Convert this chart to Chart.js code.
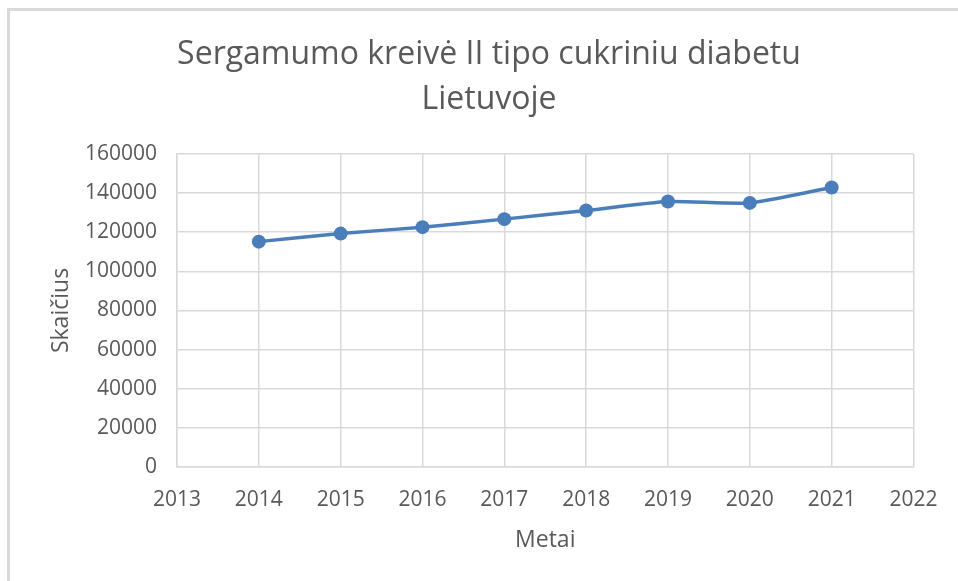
<!DOCTYPE html>
<html>
<head>
<meta charset="utf-8">
<script src="https://cdn.jsdelivr.net/npm/chart.js@4/dist/chart.umd.min.js"></script>
<style>
html,body{margin:0;padding:0;background:#fff;}
#wrap{width:958px;height:581px;}
</style>
</head>
<body>
<div id="wrap"><canvas id="c" width="958" height="581"></canvas></div>
<script>
const titleLines = ['Sergamumo kreivė II tipo cukriniu diabetu', 'Lietuvoje'];
const xAxisTitle = 'Metai';
const yAxisTitle = 'Skaičius';
const years = [2014, 2015, 2016, 2017, 2018, 2019, 2020, 2021];
const cases = [115200, 119300, 122600, 126700, 131100, 135700, 135000, 142900];
const xMin = 2013, xMax = 2022, xStep = 1;
const yMin = 0, yMax = 160000, yStep = 20000;

const TXT = '#595959';
const GRID = '#d9d9d9';
const FONT = "'Open Sans', 'Noto Sans', sans-serif";

const framePlugin = {
  id: 'frame',
  beforeDraw(chart) {
    const ctx = chart.ctx;
    ctx.save();
    ctx.fillStyle = '#fff';
    ctx.fillRect(0, 0, chart.width, chart.height);
    ctx.strokeStyle = '#dadada';
    ctx.lineWidth = 3;
    ctx.beginPath();
    ctx.moveTo(8.5, chart.height);
    ctx.lineTo(8.5, 9.5);
    ctx.lineTo(chart.width, 9.5);
    ctx.stroke();
    ctx.restore();
  }
};

new Chart(document.getElementById('c'), {
  type: 'line',
  data: {
    datasets: [{
      data: years.map((y, i) => ({x: y, y: cases[i]})),
      borderColor: '#4a7ebb',
      backgroundColor: '#4a7ebb',
      borderWidth: 3.5,
      pointRadius: 7,
      pointHoverRadius: 7,
      pointBorderWidth: 0,
      tension: 0.2,
      fill: false
    }]
  },
  options: {
    responsive: false,
    animation: false,
    layout: {padding: {left: 20, right: 0, top: 0, bottom: 0}},
    plugins: {
      legend: {display: false},
      tooltip: {enabled: false},
      title: {
        display: true,
        text: titleLines,
        color: TXT,
        font: {family: FONT, size: 32, weight: 'normal', lineHeight: 1.406},
        padding: {top: 32.5, bottom: 31.5}
      }
    },
    scales: {
      x: {
        type: 'linear',
        min: xMin, max: xMax,
        afterFit(scale) { scale.height = 114; },
        ticks: {
          stepSize: xStep,
          color: TXT,
          font: {family: FONT, size: 21},
          padding: 20.5,
          maxRotation: 0,
          callback: v => String(v)
        },
        grid: {color: GRID, lineWidth: 1.5, drawTicks: false},
        border: {color: GRID, width: 1.5},
        title: {
          display: true, text: xAxisTitle, color: TXT,
          font: {family: FONT, size: 23, lineHeight: 1.2},
          padding: {top: 0, bottom: 27}
        }
      },
      y: {
        min: yMin, max: yMax,
        afterFit(scale) { scale.width = 157; },
        ticks: {
          stepSize: yStep,
          color: TXT,
          font: {family: FONT, size: 21},
          padding: 20,
          callback: v => String(v)
        },
        grid: {color: GRID, lineWidth: 1.5, drawTicks: false},
        border: {color: GRID, width: 1.5},
        title: {
          display: true, text: yAxisTitle, color: TXT,
          font: {family: FONT, size: 23, lineHeight: 1.2},
          padding: {top: 28, bottom: 0}
        }
      },
      pad: {
        position: 'right',
        display: true,
        afterFit(scale) { scale.width = 42; },
        grid: {display: false, drawTicks: false},
        border: {display: false},
        ticks: {display: false}
      }
    }
  },
  plugins: [framePlugin]
});
</script>
</body>
</html>
